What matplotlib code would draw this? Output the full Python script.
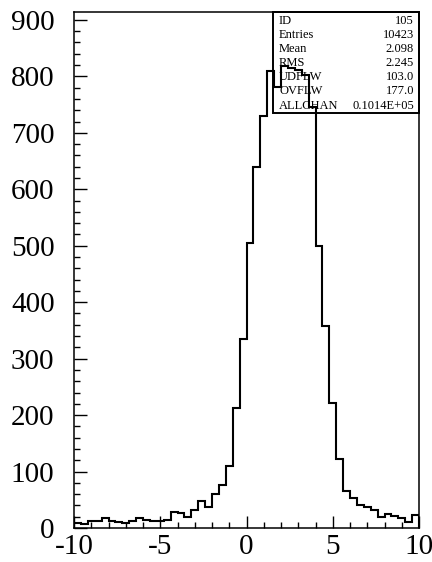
import matplotlib
matplotlib.use("Agg")
from matplotlib import pyplot as plt
import numpy as np

# histogram 105: 50 bins from -10 to 10
x_lo = -10.0
x_hi = 10.0
counts = [9, 7, 12, 13, 18, 13, 11, 9, 12, 18, 15, 12,
          12, 15, 29, 26, 20, 32, 47, 38, 61, 76, 110,
          212, 334, 505, 639, 730, 810, 781,
          818, 815, 812,
          803, 746, 500, 358, 221, 123, 66,
          54, 41, 37, 32, 20, 25, 21, 17, 11, 23]

stat_names = ["ID", "Entries", "Mean", "RMS", "UDFLW", "OVFLW", "ALLCHAN"]
stat_values = ["105", "10423", "2.098", "2.245", "103.0", "177.0", "0.1014E+05"]

plt.rcParams['font.family'] = ['Liberation Serif', 'DejaVu Serif']
plt.rcParams['axes.unicode_minus'] = False

fig = plt.figure(figsize=(4.32, 5.62), dpi=100)
ax = fig.add_axes([74/432, 1 - 528/562, 345/432, 516/562])

edges = np.linspace(x_lo, x_hi, len(counts) + 1)
ax.stairs(counts, edges, color="black", linewidth=1.5)

ax.set_xlim(x_lo, x_hi)
ax.set_ylim(0, 914)

ax.set_xticks([-10, -5, 0, 5, 10])
ax.set_xticks(np.arange(-10, 11, 1), minor=True)
ax.set_yticks(np.arange(0, 901, 100))
ax.set_yticks(np.arange(0, 901, 20), minor=True)
ax.tick_params(which="both", direction="in", top=False, right=False,
               labelsize=21, width=1.0)
ax.tick_params(which="major", length=9)
ax.tick_params(which="minor", length=4.5)
ax.tick_params(axis="y", pad=14)
ax.tick_params(axis="x", pad=4)
for s in ax.spines.values():
    s.set_linewidth(1.1)

# stats box in upper right
bx0 = (273 - 74) / 345
by0 = (528 - 113) / 516
ax.add_patch(plt.Rectangle((bx0, by0), 1 - bx0, 1 - by0, transform=ax.transAxes,
                           fill=False, edgecolor="black", linewidth=1.4,
                           clip_on=False))
for i, (n, v) in enumerate(zip(stat_names, stat_values)):
    yy = 1 - (8.5 + 14.2 * i) / 516
    ax.text((279 - 74) / 345, yy, n, transform=ax.transAxes, fontsize=9,
            va="center", ha="left")
    ax.text((414 - 74) / 345, yy, v, transform=ax.transAxes, fontsize=9,
            va="center", ha="right")

fig.savefig("out.png", dpi=100)
